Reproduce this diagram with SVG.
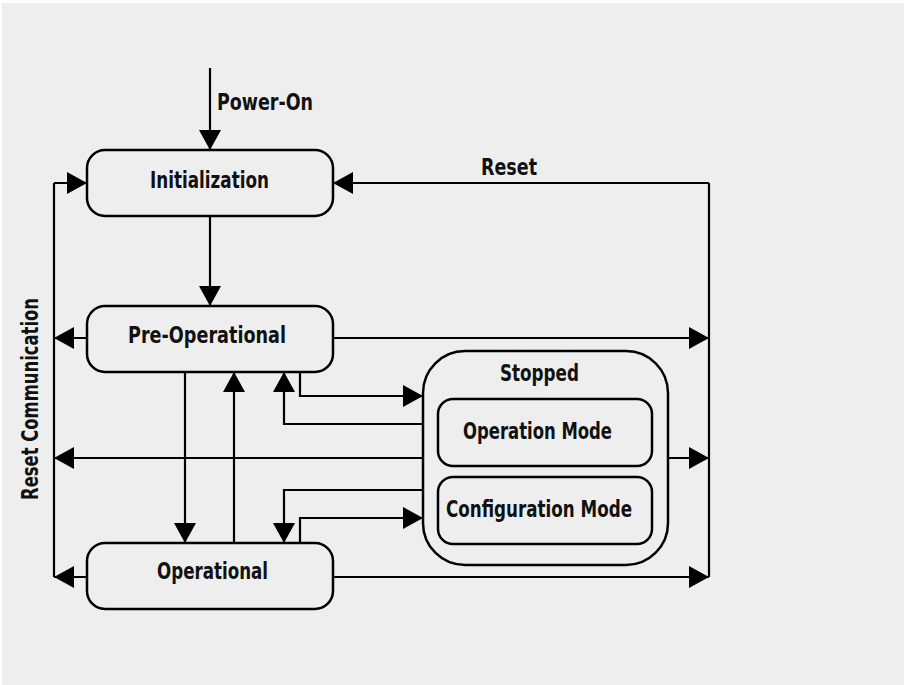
<svg xmlns="http://www.w3.org/2000/svg" width="904" height="685" viewBox="0 0 904 685">
<style>
  .box { fill: none; stroke: #000; stroke-width: 2.5; }
  .ln { fill: none; stroke: #000; stroke-width: 2.2; }
  .lbl { font-family: "DejaVu Sans Condensed", "DejaVu Sans", sans-serif; font-weight: bold; font-size: 23px; fill: #111; }
</style>
<defs>
  <marker id="ah" viewBox="0 0 20 22" refX="20" refY="11" markerWidth="20" markerHeight="22" markerUnits="userSpaceOnUse" orient="auto">
    <path d="M0,0 L20,11 L0,22 Z" fill="#000"/>
  </marker>
</defs>
<rect x="0" y="0" width="904" height="685" fill="#ffffff"/>
<rect x="2" y="3" width="902" height="682" fill="#eeeeee"/>

<g id="connectors">
  <!-- Power-On -->
  <path class="ln" d="M210,68 V150" marker-end="url(#ah)"/>
  <!-- Init -> PreOp -->
  <path class="ln" d="M210,216 V306" marker-end="url(#ah)"/>
  <!-- Left bus -->
  <path class="ln" d="M54,183 V577"/>
  <path class="ln" d="M54,183 H87" marker-end="url(#ah)"/>
  <!-- Right bus -->
  <path class="ln" d="M709,183 V577"/>
  <path class="ln" d="M709,183 H333" marker-end="url(#ah)"/>
  <!-- PreOp left/right -->
  <path class="ln" d="M87,338 H54" marker-end="url(#ah)"/>
  <path class="ln" d="M333,338 H709" marker-end="url(#ah)"/>
  <!-- Stopped left/right -->
  <path class="ln" d="M423,458 H54" marker-end="url(#ah)"/>
  <path class="ln" d="M667,458 H709" marker-end="url(#ah)"/>
  <!-- Operational left/right -->
  <path class="ln" d="M87,577 H54" marker-end="url(#ah)"/>
  <path class="ln" d="M333,577 H709" marker-end="url(#ah)"/>
  <!-- PreOp <-> Operational -->
  <path class="ln" d="M185,372 V543" marker-end="url(#ah)"/>
  <path class="ln" d="M234,543 V372" marker-end="url(#ah)"/>
  <!-- PreOp -> Stopped -->
  <path class="ln" d="M300,372 V396 H423" marker-end="url(#ah)"/>
  <!-- Stopped -> PreOp -->
  <path class="ln" d="M423,424 H284 V372" marker-end="url(#ah)"/>
  <!-- Stopped -> Operational -->
  <path class="ln" d="M423,490 H284 V543" marker-end="url(#ah)"/>
  <!-- Operational -> Stopped -->
  <path class="ln" d="M300,543 V518 H423" marker-end="url(#ah)"/>
  <text class="lbl" x="217" y="110" textLength="96" lengthAdjust="spacingAndGlyphs">Power-On</text>
  <text class="lbl" x="481" y="175" textLength="56" lengthAdjust="spacingAndGlyphs">Reset</text>
  <text class="lbl" transform="translate(38,500) rotate(-90)" x="0" y="0" textLength="202" lengthAdjust="spacingAndGlyphs">Reset Communication</text>
</g>

<g id="initialization">
  <rect class="box" x="87" y="150" width="246" height="66" rx="18"/>
  <text class="lbl" x="150" y="188" textLength="119" lengthAdjust="spacingAndGlyphs">Initialization</text>
</g>
<g id="pre-operational">
  <rect class="box" x="87" y="306" width="246" height="66" rx="18"/>
  <text class="lbl" x="128" y="343" textLength="158" lengthAdjust="spacingAndGlyphs">Pre-Operational</text>
</g>
<g id="operational">
  <rect class="box" x="87" y="543" width="246" height="66" rx="18"/>
  <text class="lbl" x="157" y="579" textLength="111" lengthAdjust="spacingAndGlyphs">Operational</text>
</g>
<g id="stopped">
  <rect class="box" x="423" y="351" width="245" height="214" rx="42"/>
  <text class="lbl" x="500" y="381" textLength="79" lengthAdjust="spacingAndGlyphs">Stopped</text>
</g>
<g id="operation-mode">
  <rect class="box" x="438" y="399" width="214" height="67" rx="15"/>
  <text class="lbl" x="463" y="439" textLength="149" lengthAdjust="spacingAndGlyphs">Operation Mode</text>
</g>
<g id="configuration-mode">
  <rect class="box" x="438" y="477" width="214" height="67" rx="15"/>
  <text class="lbl" x="446" y="517" textLength="186" lengthAdjust="spacingAndGlyphs">Configuration Mode</text>
</g>
</svg>
